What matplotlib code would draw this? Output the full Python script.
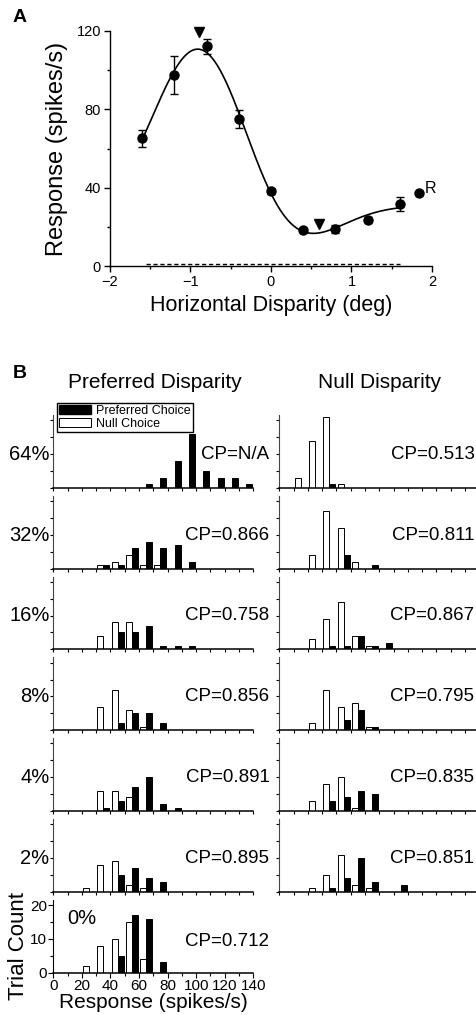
import numpy as np
import matplotlib
matplotlib.use("Agg")
import matplotlib.pyplot as plt
from matplotlib.patches import Patch
from matplotlib.ticker import MultipleLocator

plt.rcParams['font.family'] = ['Liberation Sans', 'DejaVu Sans']

# ---------------- Panel A: disparity tuning ----------------
disparity = np.array([-1.6, -1.2, -0.8, -0.4, 0.0, 0.4, 0.8, 1.2, 1.6])
response = np.array([65.2, 97.7, 112.3, 75.2, 38.1, 18.4, 19.1, 23.7, 31.8])
sem = np.array([4.4, 9.7, 3.8, 4.6, 1.2, 1.2, 2.0, 1.2, 3.6])
monocular_x = 1.84
monocular_resp = 37.1
spontaneous = 1.0
pref_disparity = -0.9
null_disparity = 0.6

# ---------------- Panel B: response histograms ----------------
bin_left = np.arange(0, 140, 10)
coherence = ['64%', '32%', '16%', '8%', '4%', '2%', '0%']

pref_disp_pref_choice = [
    [0, 0, 0, 0, 0, 0, 1, 3, 8, 16, 5, 3, 3, 1],
    [0, 0, 0, 1, 1, 6, 8, 6, 7, 2, 0, 0, 0, 0],
    [0, 0, 0, 0, 5, 5, 7, 1, 1, 1, 0, 0, 0, 0],
    [0, 0, 0, 0, 2, 5, 5, 2, 0, 0, 0, 0, 0, 0],
    [0, 0, 0, 1, 3, 7, 10, 2, 1, 0, 0, 0, 0, 0],
    [0, 0, 0, 0, 5, 7, 4, 3, 0, 0, 0, 0, 0, 0],
    [0, 0, 0, 0, 5, 17, 16, 3, 0, 0, 0, 0, 0, 0],
]
pref_disp_null_choice = [
    [0, 0, 0, 0, 0, 0, 0, 0, 0, 0, 0, 0, 0, 0],
    [0, 0, 0, 1, 2, 4, 1, 1, 0, 0, 0, 0, 0, 0],
    [0, 0, 0, 4, 8, 8, 0, 0, 0, 0, 0, 0, 0, 0],
    [0, 0, 0, 7, 12, 6, 1, 0, 0, 0, 0, 0, 0, 0],
    [0, 0, 0, 6, 6, 4, 0, 0, 0, 0, 0, 0, 0, 0],
    [0, 0, 1, 8, 9, 2, 1, 0, 0, 0, 0, 0, 0, 0],
    [0, 0, 2, 8, 10, 15, 4, 0, 0, 0, 0, 0, 0, 0],
]
null_disp_pref_choice = [
    [0, 0, 0, 1, 0, 0, 0, 0, 0, 0, 0, 0, 0, 0],
    [0, 0, 0, 0, 4, 0, 1, 0, 0, 0, 0, 0, 0, 0],
    [0, 0, 0, 1, 1, 4, 1, 2, 0, 0, 0, 0, 0, 0],
    [0, 0, 0, 0, 3, 6, 1, 0, 0, 0, 0, 0, 0, 0],
    [0, 0, 0, 3, 4, 6, 5, 0, 0, 0, 0, 0, 0, 0],
    [0, 0, 0, 1, 4, 10, 3, 0, 2, 0, 0, 0, 0, 0],
]
null_disp_null_choice = [
    [0, 3, 14, 21, 1, 0, 0, 0, 0, 0, 0, 0, 0, 0],
    [0, 0, 4, 17, 12, 2, 0, 0, 0, 0, 0, 0, 0, 0],
    [0, 0, 3, 9, 14, 4, 1, 0, 0, 0, 0, 0, 0, 0],
    [0, 0, 2, 12, 7, 8, 1, 0, 0, 0, 0, 0, 0, 0],
    [0, 0, 3, 8, 10, 1, 0, 0, 0, 0, 0, 0, 0, 0],
    [0, 0, 1, 5, 11, 2, 1, 0, 0, 0, 0, 0, 0, 0],
]
cp_pref_disp = ['N/A', '0.866', '0.758', '0.856', '0.891', '0.895', '0.712']
cp_null_disp = ['0.513', '0.811', '0.867', '0.795', '0.835', '0.851']


def gabor(p, x):
    b, a, x0, s, f, ph = p
    return b + a * np.exp(-(x - x0) ** 2 / (2 * s ** 2)) * np.cos(2 * np.pi * f * (x - x0) + ph)


def fit_gabor(x, y, p0, n_iter=400):
    p = np.array(p0, float)
    lam = 1e-2
    sse = np.sum((y - gabor(p, x)) ** 2)
    for _ in range(n_iter):
        r = y - gabor(p, x)
        J = np.empty((x.size, p.size))
        for k in range(p.size):
            dp = np.zeros_like(p)
            dp[k] = 1e-6 * max(1.0, abs(p[k]))
            J[:, k] = (gabor(p + dp, x) - gabor(p - dp, x)) / (2 * dp[k])
        H = J.T @ J
        g = J.T @ r
        try:
            step = np.linalg.solve(H + lam * np.diag(np.diag(H) + 1e-9), g)
        except np.linalg.LinAlgError:
            lam *= 10
            continue
        p_new = p + step
        sse_new = np.sum((y - gabor(p_new, x)) ** 2)
        if np.isfinite(sse_new) and sse_new < sse:
            p, sse = p_new, sse_new
            lam = max(lam / 3, 1e-9)
        else:
            lam *= 3
    return p, sse


best = None
for x0 in (-0.6, -0.2, 0.2):
    for s in (0.6, 0.9, 1.3):
        for f in (0.25, 0.35, 0.45):
            ph = 2 * np.pi * f * (x0 + 0.88)
            p, e = fit_gabor(disparity, response, [45, 60, x0, s, f, ph])
            if 0.3 < abs(p[3]) < 3 and (best is None or e < best[1]):
                best = (p, e)
gabor_params = best[0]

W, H = 477, 1015
fig = plt.figure(figsize=(W / 100, H / 100), dpi=100)


def box(l, t, r, b):
    return [l / W, 1 - b / H, (r - l) / W, (b - t) / H]


# ---- Panel A ----
axA = fig.add_axes(box(110, 31, 432, 266))
xs = np.linspace(-1.6, 1.6, 400)
axA.plot(xs, gabor(gabor_params, xs), color='black', lw=1.2, zorder=2)
axA.errorbar(disparity, response, yerr=sem, fmt='o', color='black', ms=6.5,
             capsize=3, elinewidth=1, capthick=1, zorder=3)
axA.plot([monocular_x], [monocular_resp], 'o', color='black', ms=6.5)
axA.text(1.905, monocular_resp + 0.3, 'R', fontsize=11.5, va='baseline', ha='left')
axA.plot([-1.55, 1.6], [spontaneous, spontaneous], ls=(0, (3, 2)), color='black', lw=1)
axA.plot([pref_disparity], [119.3], marker='v', color='black', ms=7, clip_on=False)
axA.plot([null_disparity], [21.3], marker='v', color='black', ms=7)
axA.set_xlim(-2, 2)
axA.set_ylim(0, 120)
axA.xaxis.set_major_locator(MultipleLocator(1))
axA.xaxis.set_minor_locator(MultipleLocator(0.5))
axA.yaxis.set_major_locator(MultipleLocator(40))
axA.yaxis.set_minor_locator(MultipleLocator(20))
axA.tick_params(which='both', direction='out', labelsize=10.5, width=1)
axA.tick_params(which='major', length=4, pad=2.5)
axA.tick_params(which='minor', length=2.5)
for sp in ('top', 'right'):
    axA.spines[sp].set_visible(False)
for sp in ('left', 'bottom'):
    axA.spines[sp].set_linewidth(1)
axA.set_xlabel('Horizontal Disparity (deg)', fontsize=15.5, labelpad=4)
axA.set_ylabel('Response (spikes/s)', fontsize=17)
axA.yaxis.set_label_coords((68 - 110) / 322, 0.5)
fig.text(13 / W, 1 - 18 / H, 'A', fontsize=14, fontweight='bold', va='center', ha='left')

# ---- Panel B ----
fig.text(13 / W, 1 - 374 / H, 'B', fontsize=14, fontweight='bold', va='center', ha='left')
fig.text(155 / W, 1 - 382 / H, 'Preferred Disparity', fontsize=15, ha='center', va='center')
fig.text(380 / W, 1 - 382 / H, 'Null Disparity', fontsize=15, ha='center', va='center')

row_bottom0 = 487.7
row_step = 80.8
row_h = 72.8


def draw_hist(ax, pref_counts, null_counts):
    pref_counts = np.asarray(pref_counts)
    null_counts = np.asarray(null_counts)
    m = null_counts > 0
    ax.bar(bin_left[m] + 0.8, null_counts[m], width=4.2, align='edge',
           facecolor='white', edgecolor='black', lw=0.7)
    m = pref_counts > 0
    ax.bar(bin_left[m] + 5.0, pref_counts[m], width=4.2, align='edge',
           facecolor='black', edgecolor='black', lw=0.7)
    ax.set_xlim(0, 140)
    ax.set_ylim(0, 21.6)
    ax.xaxis.set_major_locator(MultipleLocator(20))
    ax.xaxis.set_minor_locator(MultipleLocator(10))
    ax.yaxis.set_major_locator(MultipleLocator(10))
    ax.yaxis.set_minor_locator(MultipleLocator(5))
    ax.tick_params(which='both', direction='out', length=2.5, width=0.8,
                   labelbottom=False, labelleft=False)
    for sp in ('top', 'right'):
        ax.spines[sp].set_visible(False)
    ax.spines['left'].set_linewidth(0.8)
    ax.spines['left'].set_color('#444444')
    ax.spines['bottom'].set_linewidth(1.1)


for i, lab in enumerate(coherence):
    bottom = row_bottom0 + i * row_step
    ax = fig.add_axes(box(53.3, bottom - row_h, 253.3, bottom))
    draw_hist(ax, pref_disp_pref_choice[i], pref_disp_null_choice[i])
    cp_y = 0.43 if i == 6 else 0.46
    ax.text((269.5 - 53.3) / 200, cp_y, 'CP=' + cp_pref_disp[i], transform=ax.transAxes,
            fontsize=13.5, ha='right', va='center')
    if i < 6:
        fig.text(49.5 / W, 1 - (bottom - 0.46 * row_h) / H, lab, fontsize=14.5,
                 ha='right', va='center')
        axr = fig.add_axes(box(279.3, bottom - row_h, 479.3, bottom))
        draw_hist(axr, null_disp_pref_choice[i], null_disp_null_choice[i])
        axr.text((474.5 - 279.3) / 200, 0.46, 'CP=' + cp_null_disp[i], transform=axr.transAxes,
                 fontsize=13.5, ha='right', va='center')
    else:
        ax.text(0.07, 0.74, lab, transform=ax.transAxes, fontsize=14.5,
                ha='left', va='center')
        ax.spines['left'].set_color('black')
        ax.tick_params(which='both', labelbottom=True, labelleft=True, labelsize=11, pad=1)
        ax.tick_params(which='major', length=3.5)
        ax.set_xlabel('Response (spikes/s)', fontsize=15, labelpad=0)
        ax.set_ylabel('Trial Count', fontsize=16)
        ax.yaxis.set_label_coords(-0.12, 0.37)
    if i == 0:
        handles = [Patch(facecolor='black', edgecolor='black', label='Preferred Choice'),
                   Patch(facecolor='white', edgecolor='black', lw=0.7, label='Null Choice')]
        fig.legend(handles=handles, loc='upper left',
                   bbox_to_anchor=(57 / W, 1 - 403 / H), fontsize=9,
                   frameon=True, fancybox=False, edgecolor='black', framealpha=1,
                   borderpad=0.15, labelspacing=0.05, handlelength=2.6,
                   handleheight=0.8, handletextpad=0.4, borderaxespad=0)

fig.savefig('out.png', dpi=100)
